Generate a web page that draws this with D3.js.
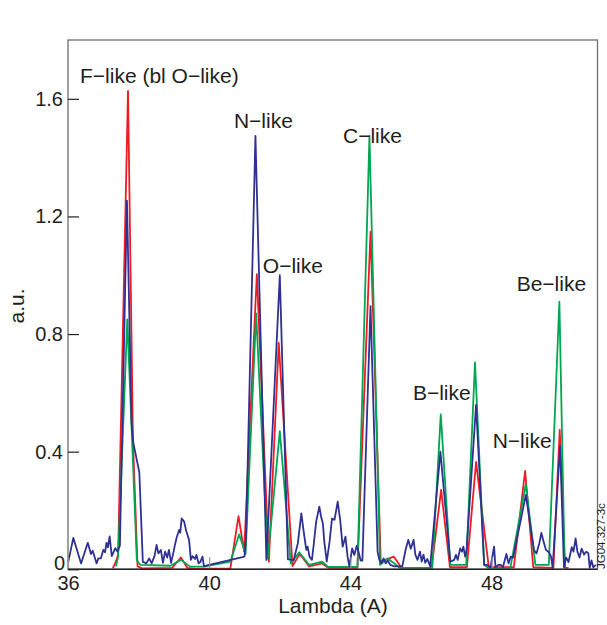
<!DOCTYPE html>
<html>
<head>
<meta charset="utf-8">
<script src="https://cdn.jsdelivr.net/npm/d3@7/dist/d3.min.js"></script>
<style>
  html, body { margin: 0; padding: 0; background: #ffffff; }
  svg { display: block; }
  text { font-family: "Liberation Sans", Arial, Helvetica, sans-serif; fill: #231f20; }
</style>
</head>
<body>
<svg id="chart" width="607" height="625"></svg>
<script>
// ---------------- data ----------------
const xTicks = [36, 40, 44, 48];
const yTicks = [0, 0.4, 0.8, 1.2, 1.6];

const blueLambda = [36.01,36.15,36.37,36.56,36.65,36.70,36.81,36.86,36.93,37.00,37.05,37.09,37.13,37.18,37.24,37.34,37.40,37.47,37.67,37.80,37.85,38.02,38.12,
  38.22,38.30,38.37,38.45,38.51,38.56,38.63,38.69,38.75,38.81,38.86,38.92,38.98,39.03,39.08,39.15,39.18,39.22,39.29,39.35,39.43,39.48,39.53,39.60,39.64,39.70,39.75,39.81,39.85,
  41.00,41.04,41.31,41.62,42.00,42.23,
  42.28,42.39,42.51,42.61,42.67,42.75,42.79,42.84,42.91,42.96,43.03,43.12,43.17,43.22,43.26,43.33,43.41,43.48,43.55,43.64,43.71,43.78,43.86,43.92,43.97,44.05,44.11,44.18,44.23,44.29,44.34,
  44.57,44.77,44.82,44.88,44.94,45.00,45.06,45.13,45.24,45.47,45.57,45.64,45.71,45.79,45.84,45.90,45.97,46.02,46.07,46.12,46.18,46.26,
  46.55,46.83,46.94,46.99,47.04,47.11,47.16,47.20,47.25,47.29,
  47.56,47.79,47.87,47.97,48.07,48.11,48.19,48.26,48.32,48.42,48.48,48.54,48.61,
  48.97,49.20,49.27,49.35,49.41,49.47,49.54,49.63,49.68,49.73,
  49.94,50.05,50.11,50.18,50.27,50.32,50.38,50.43,50.49,50.55,50.62,50.68,50.74,50.78,50.83,50.88,50.95];
const blueValue = [0.026,0.107,0.020,0.090,0.052,0.063,0.020,0.037,0.037,0.066,0.058,0.090,0.075,0.112,0.045,0.072,0.060,0.080,1.254,0.500,0.430,0.330,0.025,
  0.020,0.037,0.020,0.045,0.083,0.054,0.066,0.022,0.060,0.040,0.066,0.022,0.054,0.083,0.109,0.134,0.125,0.173,0.162,0.130,0.100,0.032,0.045,0.035,0.049,0.020,0.025,0.043,0.011,
  0.043,0.100,1.474,0.032,1.000,0.034,
  0.034,0.030,0.088,0.190,0.134,0.066,0.077,0.043,0.032,0.083,0.162,0.213,0.179,0.156,0.094,0.026,0.094,0.173,0.168,0.230,0.168,0.077,0.111,0.043,0.010,0.071,0.049,0.080,0.060,0.030,0.030,
  0.895,0.060,0.032,0.020,0.037,0.020,0.030,0.015,0.010,0.010,0.070,0.100,0.070,0.100,0.050,0.032,0.060,0.026,0.050,0.022,0.035,0.010,
  0.400,0.026,0.032,0.049,0.032,0.071,0.060,0.077,0.043,0.065,
  0.559,0.015,0.015,0.007,0.077,0.007,0.015,0.015,0.007,0.052,0.020,0.043,0.040,
  0.253,0.066,0.054,0.088,0.124,0.095,0.066,0.057,0.045,0.005,
  0.420,0.007,0.040,0.025,0.075,0.060,0.105,0.060,0.040,0.070,0.050,0.060,0.055,0.005,0.030,0.007,0.015];

const redLambda = [37.27,37.37,37.42,37.70,37.84,37.97,38.10,38.95,39.20,39.38,39.60,40.60,40.83,40.99,41.35,41.69,41.97,42.36,42.55,42.61,42.83,43.20,43.37,44.20,44.57,44.86,45.23,45.45,46.30,46.57,46.82,47.30,47.56,47.92,48.63,48.95,49.18,49.75,49.93,50.08,50.18];
const redValue  = [0.003,0.030,0.050,1.627,0.440,0.010,0.003,0.005,0.040,0.005,0.002,0.003,0.181,0.060,1.004,0.026,0.770,0.011,0.049,0.045,0.010,0.020,0.005,0.005,1.148,0.026,0.043,0.005,0.005,0.270,0.007,0.007,0.365,0.007,0.007,0.335,0.007,0.005,0.474,0.005,0.005];

const greenLambda = [37.36,37.42,37.68,37.95,38.05,38.90,39.20,39.45,39.85,40.60,40.85,41.03,41.33,41.66,42.00,42.31,42.55,42.83,43.20,43.37,44.20,44.54,44.84,45.06,45.40,46.32,46.56,46.83,47.28,47.53,47.79,47.90,48.53,48.97,49.24,49.62,49.92,50.07];
const greenValue  = [0.010,0.043,0.850,0.030,0.015,0.012,0.032,0.010,0.009,0.026,0.119,0.052,0.870,0.037,0.470,0.020,0.058,0.015,0.026,0.008,0.008,1.474,0.015,0.037,0.005,0.005,0.527,0.015,0.015,0.704,0.015,0.005,0.005,0.290,0.015,0.015,0.910,0.005];

const peakLabels = ["F\u2212like (bl O\u2212like)", "N\u2212like", "C\u2212like", "O\u2212like", "B\u2212like", "N\u2212like", "Be\u2212like"];
const peakLabelLambda = [36.34, 40.70, 43.79, 41.52, 45.77, 48.03, 48.71];
const peakLabelValue  = [1.654, 1.501, 1.451, 1.007, 0.576, 0.412, 0.947];

// ---------------- layout ----------------
const svg = d3.select("#chart");
const mLeft = 68, mRight = 597.5, mTop = 40, mBottom = 569.3;

const x = d3.scaleLinear().domain([36, 51]).range([mLeft, mRight]);
const y = d3.scaleLinear().domain([0, 1.8]).range([mBottom, mTop]);

// frame
svg.append("rect")
  .attr("x", mLeft).attr("y", mTop)
  .attr("width", mRight - mLeft).attr("height", mBottom - mTop)
  .attr("fill", "none").attr("stroke", "#6d6e71").attr("stroke-width", 1.3);

// series
const line = d3.line().x(d => x(d[0])).y(d => y(d[1]));
const series = [
  { lam: redLambda, val: redValue, color: "#ed1c24" },
  { lam: greenLambda, val: greenValue, color: "#00a651" },
  { lam: blueLambda, val: blueValue, color: "#2e3192" }
];
series.forEach(s => {
  const pts = s.lam.map((l, i) => [l, s.val[i]]);
  svg.append("path")
    .attr("d", line(pts))
    .attr("fill", "none")
    .attr("stroke", s.color)
    .attr("stroke-width", 1.8)
    .attr("stroke-linejoin", "round");
});

// y axis
const yAxis = svg.append("g")
  .attr("transform", `translate(${mLeft},0)`)
  .call(d3.axisLeft(y).tickValues(yTicks)
    .tickFormat(d => d === 0 ? "0" : d3.format(".1f")(d))
    .tickSizeInner(-11).tickSizeOuter(0).tickPadding(5));
yAxis.select(".domain").remove();
yAxis.selectAll(".tick line").attr("stroke", "#231f20").attr("stroke-width", 1.2);
yAxis.selectAll(".tick text")
  .attr("font-size", 20).attr("fill", "#231f20")
  .style("font-family", "'Liberation Sans', Arial, sans-serif");
yAxis.selectAll(".tick").filter(d => d === 0).select("text")
  .attr("x", -3).attr("y", -6);

// x axis
const xAxis = svg.append("g")
  .attr("transform", `translate(0,${mBottom})`)
  .call(d3.axisBottom(x).tickValues(xTicks)
    .tickFormat(d3.format("d"))
    .tickSizeInner(-12).tickSizeOuter(0).tickPadding(7));
xAxis.select(".domain").remove();
xAxis.selectAll(".tick line").attr("stroke", "#939598").attr("stroke-width", 1.2);
xAxis.selectAll(".tick text")
  .attr("font-size", 20).attr("fill", "#231f20")
  .style("font-family", "'Liberation Sans', Arial, sans-serif");

// bottom axis line
svg.append("line")
  .attr("x1", mLeft).attr("x2", mRight)
  .attr("y1", mBottom).attr("y2", mBottom)
  .attr("stroke", "#231f20").attr("stroke-width", 1.6);

// axis titles
svg.append("text")
  .attr("x", 333).attr("y", 613)
  .attr("text-anchor", "middle")
  .attr("font-size", 21)
  .text("Lambda (A)");

svg.append("text")
  .attr("transform", "translate(24,306) rotate(-90)")
  .attr("text-anchor", "middle")
  .attr("font-size", 21)
  .text("a.u.");

// peak labels
svg.append("g").selectAll("text")
  .data(peakLabels)
  .join("text")
  .attr("x", (d, i) => x(peakLabelLambda[i]))
  .attr("y", (d, i) => y(peakLabelValue[i]))
  .attr("font-size", 21)
  .text(d => d);

// figure code
svg.append("text")
  .attr("transform", "translate(604.5,569) rotate(-90)")
  .attr("font-size", 11.5)
  .attr("fill", "#333")
  .text("JG04.327-3c");
</script>
</body>
</html>
